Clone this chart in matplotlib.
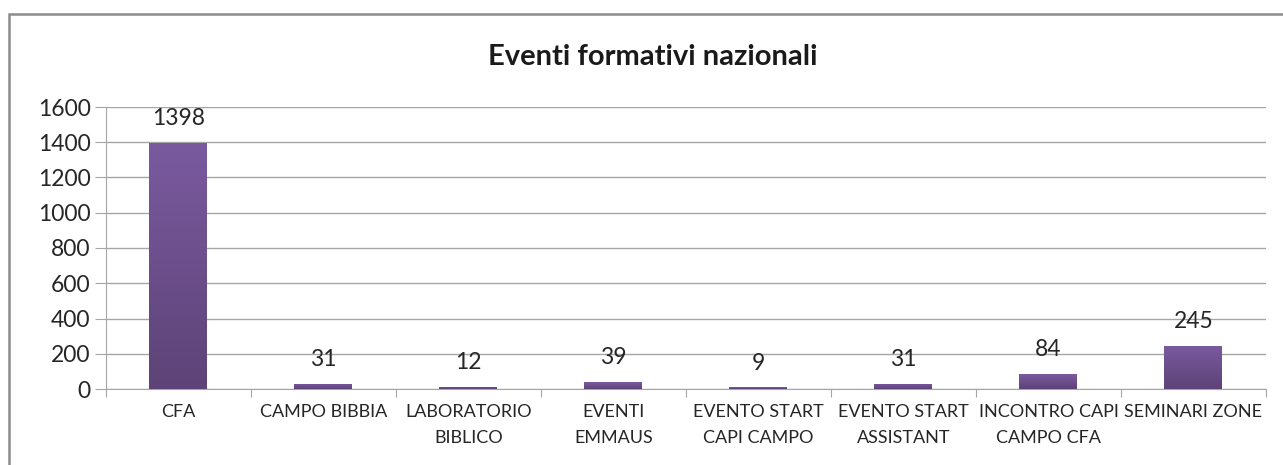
import numpy as np
import matplotlib.pyplot as plt
from matplotlib.patches import Rectangle
from matplotlib.colors import LinearSegmentedColormap

title = 'Eventi formativi nazionali'
categories = ['CFA', 'CAMPO BIBBIA', 'LABORATORIO\nBIBLICO', 'EVENTI\nEMMAUS',
              'EVENTO START\nCAPI CAMPO', 'EVENTO START\nASSISTANT',
              'INCONTRO CAPI\nCAMPO CFA', 'SEMINARI ZONE']
values = [1398, 31, 12, 39, 9, 31, 84, 245]
yticks = [0, 200, 400, 600, 800, 1000, 1200, 1400, 1600]

plt.rcParams['font.family'] = ['Lato', 'DejaVu Sans']

fig = plt.figure(figsize=(12.83, 4.65), dpi=100)
ax = fig.add_axes([106/1283, 76/465, 1160/1283, 282/465])

# outer chart border
fig.patches.append(Rectangle((9/1283, -0.05), 1.2, 1.05 - 14/465, transform=fig.transFigure,
                             fill=False, edgecolor='#8c8c8c', linewidth=1.8))

x = np.arange(len(categories))
bars = ax.bar(x, values, width=0.4, color='#6b4f8e', zorder=3)

cmap = LinearSegmentedColormap.from_list('purp', ['#5d4377', '#7a5a9f'])
grad = np.linspace(0, 1, 256).reshape(-1, 1)
for b in bars:
    x0, y0, w, h = b.get_x(), b.get_y(), b.get_width(), b.get_height()
    im = ax.imshow(grad, cmap=cmap, origin='lower', aspect='auto',
                   extent=[x0, x0 + w, y0, y0 + h], zorder=4)
    im.set_clip_path(b)
    b.set_alpha(0)

for xi, v in zip(x, values):
    ax.annotate(str(v), (xi, v), xytext=(0, 10), textcoords='offset points',
                ha='center', va='bottom', fontsize=16.5, color='#262626')

ax.set_xlim(-0.5, len(categories) - 0.5)
ax.set_ylim(0, 1600)
ax.set_yticks(yticks)
ax.set_yticklabels([str(t) for t in yticks], fontsize=16.5, color='#262626')
ax.yaxis.grid(True, color='#a6a6a6', linewidth=1, zorder=0)
ax.set_axisbelow(True)

ax.set_xticks(np.arange(len(categories) + 1) - 0.5)
ax.set_xticklabels([])
ax.set_xticks(x, minor=True)
ax.set_xticklabels(categories, minor=True, fontsize=13, color='#262626', linespacing=1.75, va='top')
ax.tick_params(axis='x', which='minor', length=0, pad=11)
ax.tick_params(axis='x', which='major', length=6, color='#a6a6a6', direction='out')
ax.tick_params(axis='y', length=8, color='#a6a6a6', pad=3)

for s in ['top', 'right']:
    ax.spines[s].set_visible(False)
ax.spines['left'].set_color('#a6a6a6')
ax.spines['bottom'].set_color('#a6a6a6')

fig.text(653/1283, 1 - 57/465, title, ha='center', va='center', fontsize=21, fontweight='bold', color='#1a1a1a')

fig.savefig('out.png', dpi=100)
